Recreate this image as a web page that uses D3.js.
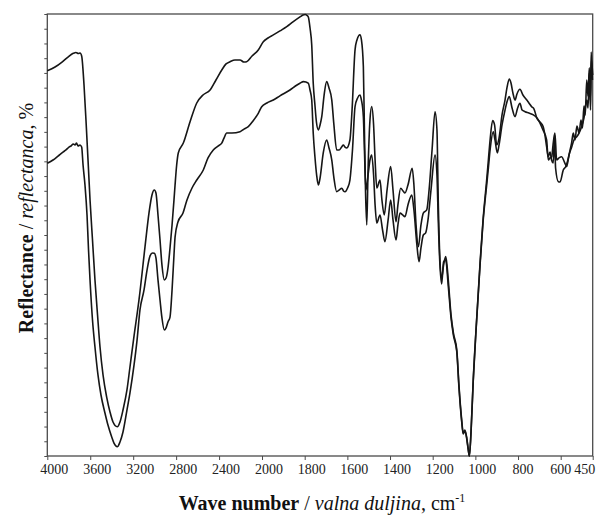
<!DOCTYPE html>
<html>
<head>
<meta charset="utf-8">
<script src="https://cdn.jsdelivr.net/npm/d3@7/dist/d3.min.js"></script>
<style>
  html, body { margin: 0; padding: 0; background: #fff; }
  svg { display: block; }
</style>
</head>
<body>
<div id="chart"></div>
<script>
// FTIR reflectance spectra of two samples, wavenumber axis broken at 2000 cm-1

const tickValues = [4000, 3600, 3200, 2800, 2400, 2000, 1800, 1600, 1400, 1200, 1000, 800, 600, 450];

// Upper spectrum: [wavenumber, reflectance]
const spectrumUpper = [
  [4000,26.15],[3928,26.40],[3863,26.74],[3807,27.08],[3758,27.33],[3733,27.39],[3711,27.32],[3695,27.35],
  [3680,27.15],[3658,25.18],[3635,22.13],[3616,19.41],[3602,17.38],[3579,14.66],[3556,11.95],[3532,9.57],
  [3509,7.40],[3481,5.50],[3447,4.00],[3416,2.99],[3388,2.31],[3348,1.99],[3323,2.31],[3295,3.12],
  [3258,4.48],[3230,6.04],[3192,8.15],[3146,10.59],[3090,14.19],[3053,16.49],[3025,17.72],[3003,18.05],
  [2988,17.85],[2969,16.36],[2950,14.66],[2932,12.96],[2910,11.95],[2894,12.08],[2876,12.76],[2857,14.12],
  [2838,15.68],[2820,17.38],[2810,18.39],[2795,19.75],[2780,20.57],[2733,21.24],[2671,22.67],[2608,23.96],
  [2550,24.50],[2484,24.84],[2429,25.52],[2375,26.20],[2335,26.61],[2298,26.76],[2252,26.88],[2205,26.88],
  [2168,26.74],[2143,26.76],[2093,27.15],[2035,27.56],[1994,28.12],[1972,28.37],[1947,28.58],[1916,28.85],
  [1884,29.14],[1855,29.46],[1822,29.80],[1808,29.93],[1798,29.97],[1789,29.90],[1783,29.80],[1775,29.05],
  [1767,27.90],[1760,25.32],[1752,23.82],[1745,22.67],[1736,22.13],[1728,22.47],[1720,23.03],[1709,24.50],
  [1697,25.41],[1686,24.98],[1673,24.16],[1663,22.47],[1650,20.77],[1639,20.77],[1626,20.99],[1619,21.11],
  [1611,20.97],[1603,20.91],[1588,21.45],[1578,23.48],[1564,27.56],[1555,28.24],[1541,28.58],[1534,28.24],
  [1525,26.42],[1520,22.13],[1515,18.05],[1509,15.68],[1503,19.41],[1494,22.81],[1486,23.71],[1477,22.47],
  [1470,20.09],[1462,18.19],[1447,18.73],[1438,17.38],[1427,16.36],[1414,18.05],[1397,19.64],[1386,18.05],
  [1372,15.90],[1363,17.04],[1350,18.17],[1339,17.99],[1330,17.85],[1316,18.39],[1296,19.53],[1288,18.39],
  [1278,15.68],[1267,14.21],[1255,15.68],[1244,16.49],[1228,16.70],[1217,18.05],[1203,20.77],[1189,23.37],
  [1180,22.13],[1174,17.38],[1166,13.30],[1158,12.08],[1149,12.96],[1139,13.53],[1133,12.96],[1127,11.95],
  [1114,9.57],[1103,8.35],[1087,7.19],[1077,4.82],[1064,2.44],[1057,1.56],[1049,1.76],[1041,1.29],
  [1034,0.54],[1028,0.00],[1020,1.76],[1010,5.16],[997,8.55],[978,13.10],[964,16.02],[947,18.73],
  [939,20.09],[931,21.45],[919,22.76],[910,22.47],[900,21.11],[889,21.58],[875,23.15],[861,24.16],
  [852,24.98],[841,25.59],[833,25.32],[824,24.64],[814,24.16],[805,24.57],[791,24.89],[777,24.50],
  [759,24.16],[749,23.96],[736,23.71],[725,23.55],[712,22.94],[697,22.67],[682,22.35],[674,21.79],
  [666,20.99],[658,20.31],[650,20.63],[643,20.09],[635,19.89],[629,21.79],[624,19.55],[611,18.62],
  [603,18.60],[588,19.41],[575,19.68],[564,20.23],[556,20.77],[549,21.24],[541,21.92],[533,21.45],
  [524,22.40],[514,21.92],[505,22.81],[498,22.26],[491,23.76],[485,23.15],[478,25.52],[472,24.44],
  [466,26.34],[461,24.16],[457,27.42],[451,25.52]
];

// Lower spectrum: [wavenumber, reflectance]
const spectrumLower = [
  [4000,19.87],[3947,20.09],[3900,20.36],[3854,20.63],[3826,20.77],[3798,20.97],[3779,21.04],[3758,21.18],
  [3742,21.11],[3728,21.24],[3714,21.04],[3695,21.11],[3680,20.97],[3667,19.75],[3649,18.39],[3630,16.36],
  [3616,13.98],[3602,11.95],[3579,9.23],[3556,7.40],[3528,5.50],[3500,4.14],[3463,2.92],[3435,2.10],
  [3400,1.29],[3379,0.88],[3348,0.63],[3323,0.95],[3295,1.63],[3258,3.12],[3230,4.28],[3192,6.18],
  [3164,7.87],[3137,9.91],[3099,11.27],[3071,12.62],[3043,13.58],[3020,13.78],[3003,13.76],[2988,13.44],
  [2969,11.95],[2950,10.59],[2932,9.37],[2910,8.55],[2894,8.69],[2876,9.10],[2857,9.43],[2838,11.27],
  [2820,13.64],[2810,14.86],[2783,15.88],[2736,16.49],[2699,17.38],[2652,18.19],[2608,18.73],[2547,19.41],
  [2503,20.23],[2454,20.77],[2410,21.04],[2375,21.24],[2354,21.58],[2329,21.92],[2280,21.92],[2205,22.01],
  [2168,22.19],[2128,22.35],[2084,22.74],[2035,23.26],[2003,23.71],[1977,23.96],[1947,24.16],[1916,24.44],
  [1869,24.84],[1836,25.18],[1822,25.30],[1806,25.41],[1794,25.38],[1783,25.30],[1775,24.84],[1767,24.16],
  [1760,21.92],[1752,20.31],[1744,19.07],[1736,18.39],[1728,18.87],[1713,20.57],[1697,21.45],[1686,20.91],
  [1673,20.09],[1663,18.87],[1650,17.94],[1639,18.05],[1626,18.17],[1618,17.99],[1611,17.94],[1599,18.19],
  [1588,18.73],[1576,20.77],[1564,23.71],[1552,24.30],[1541,24.50],[1534,24.16],[1525,23.03],[1520,20.77],
  [1513,18.05],[1503,19.07],[1494,20.09],[1486,20.43],[1477,19.07],[1470,17.04],[1462,15.81],[1447,16.36],
  [1435,15.34],[1424,14.55],[1409,16.02],[1397,17.38],[1386,16.02],[1372,14.66],[1363,15.68],[1353,16.49],
  [1341,16.36],[1330,16.24],[1316,17.04],[1298,17.72],[1288,16.70],[1274,14.32],[1264,13.19],[1255,14.12],
  [1244,15.00],[1233,15.14],[1222,16.02],[1208,18.05],[1189,20.43],[1180,19.07],[1174,16.02],[1166,12.96],
  [1158,11.67],[1149,13.17],[1139,13.30],[1127,11.54],[1114,9.37],[1103,8.21],[1087,7.06],[1077,4.68],
  [1064,2.31],[1057,1.49],[1049,1.70],[1041,1.22],[1034,0.48],[1028,0.00],[1020,1.70],[1010,5.09],
  [997,8.48],[978,12.96],[964,15.88],[947,18.39],[939,19.55],[931,20.77],[916,22.01],[908,21.45],
  [897,20.57],[889,21.11],[875,22.47],[861,23.48],[852,24.03],[841,24.39],[828,23.62],[814,23.03],
  [802,23.62],[791,23.94],[781,23.48],[767,23.37],[749,23.28],[728,23.15],[711,22.94],[697,22.60],
  [683,22.13],[666,21.45],[658,20.09],[650,20.23],[642,20.31],[636,21.11],[627,21.92],[619,20.09],
  [608,20.23],[595,20.31],[583,19.96],[572,19.64],[561,20.43],[548,20.99],[538,21.45],[525,21.67],
  [514,21.92],[502,22.35],[491,22.94],[478,24.16],[472,23.62],[466,26.00],[460,23.48],[456,26.88],
  [450,25.86]
];

const W = 603, H = 516;
const plot = { left: 47.3, right: 592.7, top: 14, bottom: 456 };

const svg = d3.select("#chart").append("svg")
  .attr("width", W).attr("height", H);

// Wavenumber axis: 4000-2000 at half the scale of 2000-450
const x = d3.scaleLinear()
  .domain([4000, 2000, 450])
  .range([plot.left, plot.left + (plot.right - plot.left) * 0.3937, plot.right]);

const y = d3.scaleLinear().domain([0, 30]).range([plot.bottom, plot.top]);

const axisColor = "#4a4a4a";

// Y axis: unlabeled minor ticks
const yAxis = d3.axisLeft(y).tickValues(d3.range(0, 31, 1)).tickSize(3).tickFormat("");
svg.append("g")
  .attr("transform", `translate(${plot.left},0)`)
  .call(yAxis)
  .call(g => g.select(".domain").remove())
  .call(g => g.selectAll(".tick line").attr("stroke", axisColor).attr("stroke-width", 1));

// X axis ticks
const xAxis = d3.axisBottom(x).tickValues(tickValues).tickSize(4).tickFormat("");
svg.append("g")
  .attr("transform", `translate(0,${plot.bottom})`)
  .call(xAxis)
  .call(g => g.select(".domain").remove())
  .call(g => g.selectAll(".tick line").attr("stroke", axisColor).attr("stroke-width", 1));

// X tick labels, set slightly right of their ticks; the last two are pulled in to fit
const labelShift = v => (v === 450 ? -8 : v === 600 ? 0 : v === 800 ? 5 : 7);
svg.append("g")
  .selectAll("text")
  .data(tickValues)
  .join("text")
  .attr("x", d => x(d) + labelShift(d))
  .attr("y", 474)
  .attr("text-anchor", "middle")
  .attr("font-family", "'Liberation Serif', 'Times New Roman', serif")
  .attr("font-size", 14)
  .attr("fill", "#222")
  .text(d => d);

// Frame
svg.append("rect")
  .attr("x", plot.left).attr("y", plot.top)
  .attr("width", plot.right - plot.left).attr("height", plot.bottom - plot.top)
  .attr("fill", "none").attr("stroke", axisColor).attr("stroke-width", 1.3);

// Spectra
const line = d3.line()
  .x(d => x(d[0]))
  .y(d => y(d[1]))
  .curve(d3.curveMonotoneX);

[spectrumUpper, spectrumLower].forEach(series => {
  svg.append("path")
    .datum(series)
    .attr("d", line)
    .attr("fill", "none")
    .attr("stroke", "#161616")
    .attr("stroke-width", 1.6)
    .attr("stroke-linejoin", "round");
});

// Axis titles
const serif = "'Liberation Serif', 'Times New Roman', serif";
const xTitle = svg.append("text")
  .attr("x", 322).attr("y", 510)
  .attr("text-anchor", "middle")
  .attr("font-family", serif).attr("font-size", 20).attr("fill", "#111");
xTitle.append("tspan").attr("font-weight", "bold").text("Wave number");
xTitle.append("tspan").text(" / ");
xTitle.append("tspan").attr("font-style", "italic").text("valna duljina");
xTitle.append("tspan").text(", cm");
xTitle.append("tspan").attr("font-size", 12).attr("dy", -8).text("-1");

const yTitle = svg.append("text")
  .attr("transform", "translate(33,218) rotate(-90)")
  .attr("text-anchor", "middle")
  .attr("font-family", serif).attr("font-size", 20).attr("fill", "#111");
yTitle.append("tspan").attr("font-weight", "bold").text("Reflectance");
yTitle.append("tspan").text(" / ");
yTitle.append("tspan").attr("font-style", "italic").text("reflectanca");
yTitle.append("tspan").text(", %");
</script>
</body>
</html>
